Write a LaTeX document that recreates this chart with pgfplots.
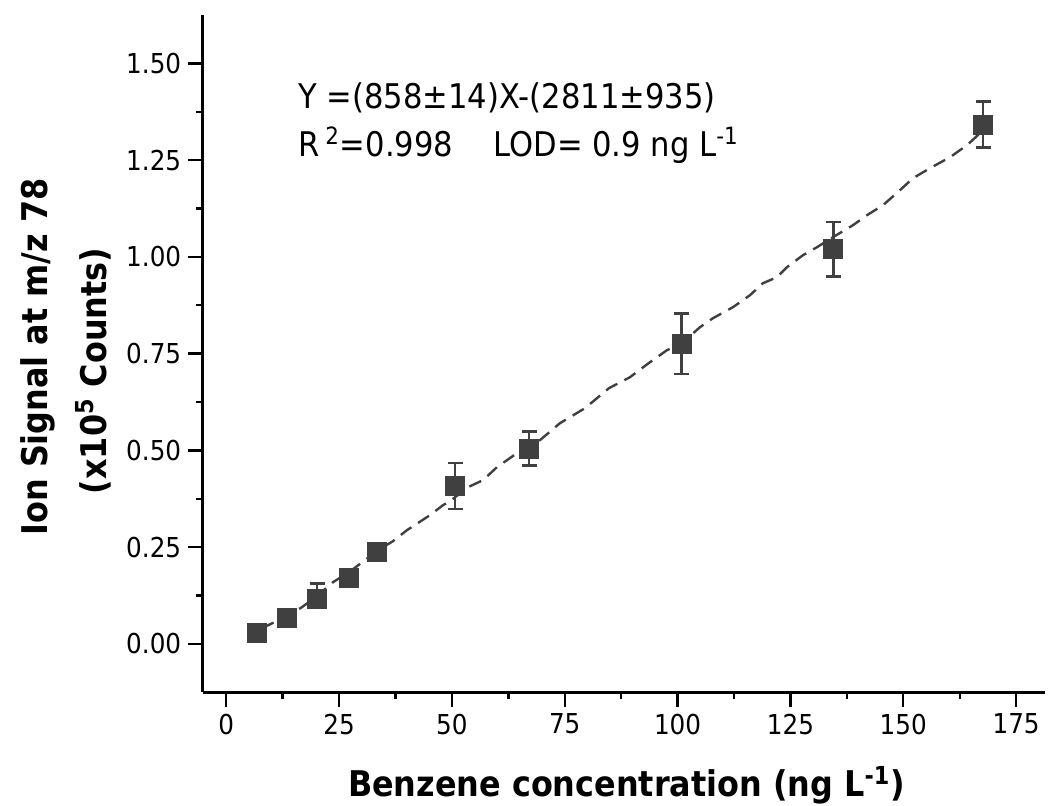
\documentclass[border=0pt]{standalone}
\usepackage{fontspec}
\setmainfont{DejaVu Sans}[FakeStretch=0.9]
\usepackage{pgfplots}
\pgfplotsset{compat=1.18}
\definecolor{dg}{HTML}{404040}
\pgfplotstableread{
x y ep em
6.87 0.0295 0.008 0.008
13.52 0.067 0.008 0.008
20.16 0.1155 0.041 0.020
27.2 0.1716 0.012 0.012
33.5 0.238 0.008 0.008
50.7 0.408 0.059 0.059
67.1 0.505 0.044 0.044
100.9 0.7755 0.0785 0.0785
134.5 1.0195 0.0705 0.0705
167.7 1.342 0.059 0.059
}\datatable
\begin{document}
\begin{tikzpicture}
\begin{axis}[name=ax, scale only axis, width=421.15pt, height=338.65pt,
 xmin=-5.2, xmax=181.4, ymin=-0.125, ymax=1.625,
 axis x line*=bottom, axis y line*=left,
 axis line style={line width=1.4pt, black},
 xtick={0,25,...,175}, ytick={0,0.25,0.5,0.75,1,1.25,1.5},
 minor tick num=1,
 tick align=outside,
 major tick length=7.25pt, minor tick length=3.5pt,
 every tick/.style={black, line width=1.2pt},
 yticklabel style={/pgf/number format/.cd, fixed, fixed zerofill, precision=2},
 /pgf/number format/assume math mode=true,
 tick label style={font=\fontsize{13.7}{16}\selectfont},
 clip=false,
]
\addplot[dg, line width=1.2pt, dash pattern=on 6.5pt off 4pt] coordinates {
(7.91,0.0406) (13.45,0.0716) (16.77,0.0948) (20.10,0.1233) (23.65,0.1594)
(27.19,0.1853) (30.73,0.2163) (33.61,0.2421) (36.94,0.2654) (40.04,0.2938)
(45.14,0.3326) (48.02,0.3584) (49.57,0.3687) (53.56,0.4049) (56.88,0.4230)
(59.98,0.4566) (64.41,0.4928) (69.51,0.5264) (73.94,0.5703) (79.48,0.6090)
(84.80,0.6607) (89.45,0.6891) (93.88,0.7279) (97.65,0.7589) (100.97,0.7770)
(104.96,0.8183) (107.84,0.8416) (112.27,0.8700) (116.04,0.9010) (118.92,0.9320)
(122.02,0.9475) (124.24,0.9734) (127.78,1.0044) (130.89,1.0251) (134.43,1.0509)
(138.86,1.0819) (141.97,1.1078) (145.51,1.1336) (149.28,1.1724) (152.16,1.2034)
(155.92,1.2292) (160.36,1.2576) (164.12,1.2886) (167.00,1.3196)
};
\addplot[dg, only marks, mark=square*, mark size=4.75pt,
  mark options={draw=dg, fill=dg},
  error bars/.cd, y dir=both, y explicit,
  error bar style={line width=1.3pt, dg},
  error mark=-,
  error mark options={rotate=90, mark size=3.75pt, line width=1.3pt, dg}]
  table[x=x, y=y, y error plus=ep, y error minus=em] {\datatable};
\addplot[dg, only marks, mark=square*, mark size=4.75pt,
  mark options={draw=dg, fill=dg}]
  table[x=x, y=y] {\datatable};
\end{axis}
\node[anchor=base west, font=\fontsize{17}{20}\selectfont, inner sep=0pt] at ([shift={(47.65pt,291.65pt)}]ax.south west) {Y =(858±14)X-(2811±935)};
\node[anchor=base west, font=\fontsize{17}{20}\selectfont, inner sep=0pt] at ([shift={(47.65pt,267.65pt)}]ax.south west) {R\,\textsuperscript{2}=0.998};
\node[anchor=base west, font=\fontsize{17}{20}\selectfont, inner sep=0pt] at ([shift={(145.15pt,267.65pt)}]ax.south west) {LOD= 0.9 ng L\textsuperscript{-1}};
\node[anchor=base, font=\fontsize{17.7}{20}\selectfont\bfseries, inner sep=0pt] at ([shift={(211.9pt,-52.3pt)}]ax.south west) {Benzene concentration (ng L\textsuperscript{-1})};
\node[anchor=base, rotate=90, font=\fontsize{17.7}{20}\selectfont\bfseries, inner sep=0pt] at ([shift={(-77.35pt,167.65pt)}]ax.south west) {Ion Signal at m/z 78};
\node[anchor=base, rotate=90, font=\fontsize{17.7}{20}\selectfont\bfseries, inner sep=0pt] at ([shift={(-48.35pt,160.65pt)}]ax.south west) {(x10\textsuperscript{5} Counts)};
\pgfresetboundingbox
\path[use as bounding box] ([shift={(-101.35pt,-56.85pt)}]ax.south west) rectangle ([shift={(424.65pt,346.15pt)}]ax.south west);
\end{tikzpicture}
\end{document}
